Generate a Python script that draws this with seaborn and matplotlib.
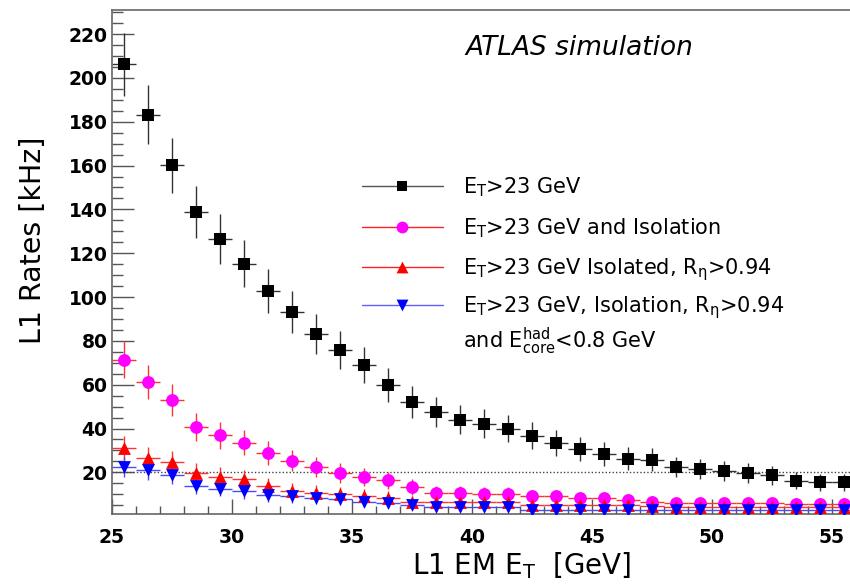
import matplotlib
matplotlib.use("Agg")
import matplotlib.pyplot as plt
import pandas as pd
import seaborn as sns
from matplotlib.ticker import MultipleLocator

# bin centres of L1 EM E_T [GeV], 1 GeV bins
et_centres = [25.5, 26.5, 27.5, 28.5, 29.5, 30.5, 31.5, 32.5, 33.5, 34.5, 35.5,
              36.5, 37.5, 38.5, 39.5, 40.5, 41.5, 42.5, 43.5, 44.5, 45.5, 46.5,
              47.5, 48.5, 49.5, 50.5, 51.5, 52.5, 53.5, 54.5, 55.5]
bin_half_width = 0.5

rates_et23 = [206.2, 183.3, 160.1, 138.7, 126.5, 115.3, 102.6, 93.2, 83.2, 76.0, 69.0,
              60.0, 52.1, 47.5, 44.0, 42.2, 40.0, 36.7, 33.4, 30.8, 28.4, 26.3,
              25.8, 22.4, 21.5, 20.6, 19.7, 18.6, 16.2, 15.4, 15.4]
err_et23 = [14.4, 13.5, 12.7, 11.8, 11.2, 10.7, 10.1, 9.7, 9.1, 8.7, 8.3,
            7.7, 7.2, 6.9, 6.6, 6.5, 6.3, 6.1, 5.8, 5.5, 5.3, 5.1,
            5.1, 4.7, 4.6, 4.5, 4.4, 4.3, 4.0, 3.9, 3.9]

rates_iso = [71.4, 61.3, 52.8, 40.9, 36.9, 33.6, 28.8, 25.4, 22.4, 19.7, 17.8,
             16.3, 13.2, 10.5, 10.5, 10.0, 10.0, 9.0, 9.0, 8.3, 8.3, 7.5,
             6.7, 6.0, 6.0, 6.0, 6.0, 6.0, 5.7, 5.7, 5.7]
err_iso = [8.4, 7.8, 7.3, 6.4, 6.1, 5.8, 5.4, 5.0, 4.7, 4.4, 4.2,
           4.0, 3.6, 3.2, 3.2, 3.2, 3.2, 3.0, 3.0, 2.9, 2.9, 2.7,
           2.6, 2.4, 2.4, 2.4, 2.4, 2.4, 2.4, 2.4, 2.4]

rates_iso_reta = [31.2, 26.4, 24.9, 19.7, 18.1, 16.9, 13.8, 11.7, 10.8, 10.2, 9.3,
                  8.4, 6.7, 6.3, 6.3, 6.3, 6.3, 5.2, 5.2, 4.9, 4.9, 4.9,
                  4.6, 4.3, 4.3, 4.3, 4.3, 4.3, 4.3, 4.3, 4.3]
err_iso_reta = [5.6, 5.1, 5.0, 4.4, 4.3, 4.1, 3.7, 3.4, 3.3, 3.2, 3.0,
                2.9, 2.6, 2.5, 2.5, 2.5, 2.5, 2.3, 2.3, 2.2, 2.2, 2.2,
                2.1, 2.1, 2.1, 2.1, 2.1, 2.1, 2.1, 2.1, 2.1]

rates_full = [22.4, 20.9, 18.8, 13.8, 12.6, 11.4, 9.6, 9.0, 8.3, 7.7, 6.5,
              6.2, 5.1, 4.4, 4.4, 4.4, 4.4, 3.0, 3.0, 3.0, 3.0, 3.0,
              3.0, 2.7, 2.7, 2.7, 2.7, 2.7, 2.7, 2.7, 2.7]
err_full = [4.7, 4.6, 4.3, 3.7, 3.5, 3.4, 3.1, 3.0, 2.9, 2.8, 2.5,
            2.5, 2.3, 2.1, 2.1, 2.1, 2.1, 1.7, 1.7, 1.7, 1.7, 1.7,
            1.7, 1.6, 1.6, 1.6, 1.6, 1.6, 1.6, 1.6, 1.6]

target_rate = 20

legend_labels = [
    r"E$_{\mathrm{T}}$>23 GeV",
    r"E$_{\mathrm{T}}$>23 GeV and Isolation",
    r"E$_{\mathrm{T}}$>23 GeV Isolated, R$_{\mathrm{\eta}}$>0.94",
    r"E$_{\mathrm{T}}$>23 GeV, Isolation, R$_{\mathrm{\eta}}$>0.94",
]
legend_extra = r"and E$_{\mathrm{core}}^{\mathrm{had}}$<0.8 GeV"

# (rates, errors, marker, marker colour, bar colour, marker size, legend line colour)
series = [
    (rates_et23, err_et23, "s", "black", "#333333", 72, "#555555"),
    (rates_iso, err_iso, "o", "#ff00ff", "#ff3333", 85, "#ff2020"),
    (rates_iso_reta, err_iso_reta, "^", "#ff0000", "#ff3333", 85, "#ff2020"),
    (rates_full, err_full, "v", "#0000ff", "#4a4aff", 85, "#6060ff"),
]

sns.set_theme(style="ticks")
plt.rcParams["font.family"] = ["DejaVu Sans"]
plt.rcParams["text.color"] = "black"
plt.rcParams["axes.labelcolor"] = "black"
plt.rcParams["mathtext.fontset"] = "custom"
plt.rcParams["mathtext.rm"] = "DejaVu Sans"
plt.rcParams["mathtext.it"] = "DejaVu Sans:italic"
plt.rcParams["mathtext.bf"] = "DejaVu Sans:bold"
plt.rcParams["mathtext.default"] = "regular"

W, H = 850, 586
AX_L, AX_R, AX_T, AX_B = 111.7, 850.0, 10.0, 514.0

fig = plt.figure(figsize=(W / 100, H / 100), dpi=100)
ax = fig.add_axes([AX_L / W, 1 - AX_B / H, (AX_R - AX_L) / W, (AX_B - AX_T) / H])


def px(x, y):
    """pixel position in the image -> axes fraction"""
    return (x - AX_L) / (AX_R - AX_L), (AX_B - y) / (AX_B - AX_T)


for rates, errs, marker, mcol, bcol, size, _ in series:
    df = pd.DataFrame({"et": et_centres, "rate": rates})
    ax.errorbar(et_centres, rates, yerr=errs, xerr=bin_half_width, fmt="none",
                ecolor=bcol, elinewidth=1.0, capsize=0, zorder=2)
    sns.scatterplot(data=df, x="et", y="rate", marker=marker, color=mcol, s=size,
                    linewidth=0, ax=ax, zorder=3, legend=False)

ax.axhline(target_rate, color="#444444", ls=(0, (1, 1.5)), lw=1.0, zorder=1)

ax.set_xlim(25, 55.75)
ax.set_ylim(1, 231)
ax.xaxis.set_major_locator(MultipleLocator(5))
ax.xaxis.set_minor_locator(MultipleLocator(1))
ax.yaxis.set_major_locator(MultipleLocator(20))
ax.yaxis.set_minor_locator(MultipleLocator(5))
ax.set_yticks(range(20, 221, 20))

ax.tick_params(axis="y", which="major", direction="in", length=16, width=1.0,
               color="#555555", labelcolor="black", pad=3, labelsize=13.5)
ax.tick_params(axis="y", which="minor", direction="in", length=8, width=1.0, color="#555555")
ax.tick_params(axis="x", which="major", direction="in", length=11, width=1.0,
               color="#555555", labelcolor="black", pad=10, labelsize=13.5)
ax.tick_params(axis="x", which="minor", direction="in", length=5.5, width=1.0, color="#555555")
for lab in ax.get_xticklabels() + ax.get_yticklabels():
    lab.set_fontweight("bold")

for side in ["left", "bottom", "top"]:
    ax.spines[side].set_color("#666666")
    ax.spines[side].set_linewidth(1.2)
ax.spines["right"].set_visible(False)

ax.set_xlabel(r"L1 EM E$_{\mathrm{T}}$  [GeV]", fontsize=20, va="center")
ax.xaxis.set_label_coords(*px(522, 566))
ax.set_ylabel("L1 Rates [kHz]", fontsize=20.5, va="center")
ax.yaxis.set_label_coords(*px(33, 240))

ax.text(*px(465, 48), "ATLAS simulation", style="italic", fontsize=19,
        ha="left", va="center", transform=ax.transAxes)

# legend drawn by hand (ROOT-style: line + marker, no vertical bar)
row_y = [186, 227, 267, 305]
for (rates, errs, marker, mcol, bcol, size, lcol), label, y in zip(series, legend_labels, row_y):
    x0, yy = px(362, y)
    x1, _ = px(443, y)
    xm, _ = px(402, y)
    ax.plot([x0, x1], [yy, yy], color=lcol, lw=1.0, transform=ax.transAxes, clip_on=False)
    ax.scatter([xm], [yy], marker=marker, color=mcol, s=size * 0.85, linewidths=0,
               transform=ax.transAxes, clip_on=False, zorder=4)
    ax.text(*px(463, y + 7), label, fontsize=15, ha="left", va="baseline",
            transform=ax.transAxes)
ax.text(*px(463, 348), legend_extra, fontsize=15, ha="left", va="baseline",
        transform=ax.transAxes)

fig.savefig("out.png", dpi=100)
